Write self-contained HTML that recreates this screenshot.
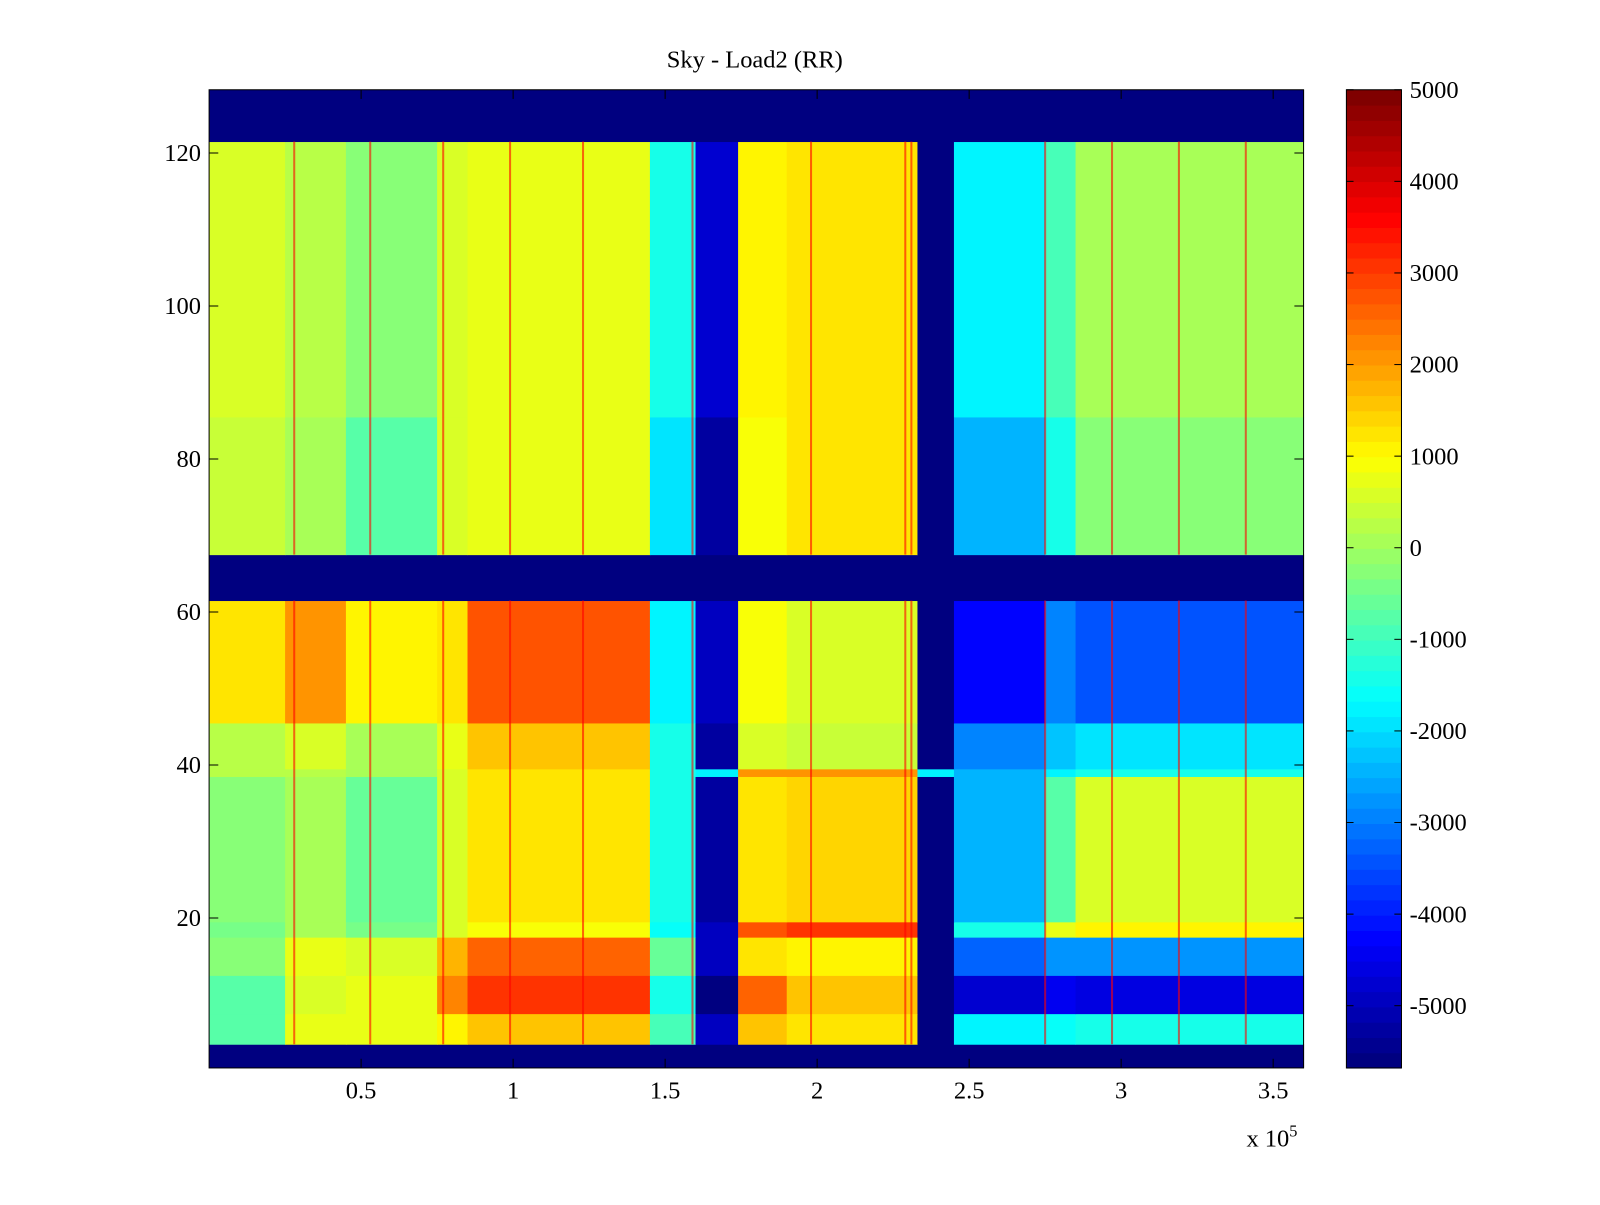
<!DOCTYPE html>
<html><head><meta charset="utf-8"><style>
body{margin:0;background:#fff;width:1600px;height:1200px;overflow:hidden}
svg text{font-family:"Liberation Serif",serif;font-size:24px;fill:#000}
</style></head><body>
<svg id="fig" width="1600" height="1200" xmlns="http://www.w3.org/2000/svg"><g id="root" transform="scale(1.02)"></g></svg>
<script>
// ---- data ----
const segEdges = [0,0.25,0.45,0.75,0.85,1.45,1.6,1.74,1.9,2.33,2.45,2.75,2.85,3.6]; // x (1e5)
const bandRows = [[1,3],[4,7],[8,12],[13,17],[18,19],[20,38],[39,39],[40,45],[46,61],[62,67],[68,85],[86,121],[122,128]];
const bandValues = [
 [-5680,-5680,-5680,-5680,-5680,-5680,-5680,-5680,-5680,-5680,-5680,-5680,-5680],
 [-800,800,800,1000,1500,-1000,-5000,1500,1200,-5680,-1800,-1600,-1500],
 [-800,600,800,2200,3000,-1500,-5600,2600,1500,-5680,-4700,-4400,-4600],
 [-200,800,600,1800,2500,-600,-5000,1200,1000,-5680,-3300,-2800,-2800],
 [-500,0,-500,600,900,-1600,-5000,2800,3000,-5680,-1500,800,1000],
 [-300,100,-600,600,1200,-1500,-5200,1200,1400,-5680,-2500,-800,600],
 [200,300,0,600,1200,-1500,-1800,2000,2000,-1800,-2500,-1800,-1500],
 [300,500,100,800,1500,-1500,-5200,600,400,-5680,-3000,-2200,-2000],
 [1200,2000,1000,1200,2700,-1800,-5000,900,500,-5680,-4200,-3000,-3400],
 [-5680,-5680,-5680,-5680,-5680,-5680,-5680,-5680,-5680,-5680,-5680,-5680,-5680],
 [400,0,-700,500,700,-2000,-5300,900,1200,-5680,-2400,-1500,-200],
 [500,200,-300,600,800,-1500,-4700,1000,1300,-5600,-1700,-1000,0],
 [-5680,-5680,-5680,-5680,-5680,-5680,-5680,-5680,-5680,-5680,-5680,-5680,-5680]
];
const spikeX = [0.28,0.53,0.77,0.99,1.23,1.59,1.98,2.29,2.31,2.75,2.97,3.19,3.41];
const spikeValue = 3500;
const yTicks = [20,40,60,80,100,120];
const xTicks = [0.5,1,1.5,2,2.5,3,3.5];
const cTicks = [-5000,-4000,-3000,-2000,-1000,0,1000,2000,3000,4000,5000];
const cmin=-5680, cmax=5000;
// ---- geometry ----
const L=205,R=1278,T=88,B=1047;
const xs=v=>L+(v/3.6)*(R-L);
const ys=r=>1050-r*7.5;
const CL=1320,CR=1374;
const cs=v=>537-v*449/5000;
function jet(t){t=Math.max(0,Math.min(1,t));
 const f=x=>Math.max(0,Math.min(1,1.5-Math.abs(4*t-x)));
 return `rgb(${Math.round(255*f(3))},${Math.round(255*f(2))},${Math.round(255*f(1))})`;}
function col(v){let t=(v-cmin)/(cmax-cmin);t=Math.floor(t*63.999)/63;return jet(t);}
const svg=document.getElementById('root');const NS='http://www.w3.org/2000/svg';
function mk(tag,attrs,parent){const e=document.createElementNS(NS,tag);for(const k in attrs)e.setAttribute(k,attrs[k]);(parent||svg).appendChild(e);return e;}
const hm=mk('g',{});


bandRows.forEach((br,bi)=>{
 for(let s=0;s<segEdges.length-1;s++){
  const x0=xs(segEdges[s]),x1=xs(segEdges[s+1]);
  const y0=ys(br[1]+0.5),y1=ys(br[0]-0.5);
  const r=mk('rect',{x:x0,y:Math.max(T,y0),width:x1-x0+0.5,height:Math.min(B,y1)-Math.max(T,y0)+0.5,fill:col(bandValues[bi][s])},hm);
  
  
 }
});
spikeX.forEach(sx=>{
 [[4,61],[68,121]].forEach(rr=>{
  const r=mk('rect',{x:xs(sx)-1,y:ys(rr[1]+0.5),width:2,height:ys(rr[0]-0.5)-ys(rr[1]+0.5),fill:col(spikeValue),opacity:0.6},hm);
  
  
 });
});
const ax=mk('rect',{x:L,y:T,width:R-L,height:B-T,fill:'none',stroke:'#000','stroke-width':1});


yTicks.forEach(v=>{const y=ys(v);
 mk('line',{x1:L,x2:L+9,y1:y,y2:y,stroke:'#000'});mk('line',{x1:R-9,x2:R,y1:y,y2:y,stroke:'#000'});
 const t=mk('text',{x:L-8,y:y+8,'text-anchor':'end'});t.textContent=v;
 
 
});
xTicks.forEach(v=>{const x=xs(v);
 mk('line',{x1:x,x2:x,y1:B,y2:B-9,stroke:'#000'});mk('line',{x1:x,x2:x,y1:T,y2:T+9,stroke:'#000'});
 const t=mk('text',{x:x,y:B+30,'text-anchor':'middle'});t.textContent=v;
 
 
});
const xm=mk('text',{x:1222,y:1124});xm.innerHTML='x 10<tspan dy="-10" font-size="16">5</tspan>';


const ti=mk('text',{x:740,y:66,'text-anchor':'middle'});ti.textContent='Sky - Load2 (RR)';


const cb=mk('g',{});


for(let i=0;i<64;i++){const h=(B-T)/64;
 mk('rect',{x:CL,y:B-(i+1)*h,width:CR-CL,height:h+0.6,fill:jet(i/63)},cb);}
mk('rect',{x:CL,y:T,width:CR-CL,height:B-T,fill:'none',stroke:'#000'},cb);
cTicks.forEach(v=>{const y=cs(v);
 mk('line',{x1:CL,x2:CL+7,y1:y,y2:y,stroke:'#000'},cb);mk('line',{x1:CR-7,x2:CR,y1:y,y2:y,stroke:'#000'},cb);
 const t=mk('text',{x:CR+8,y:y+8},cb);t.textContent=v;
 
 
});
</script>
</body></html>
